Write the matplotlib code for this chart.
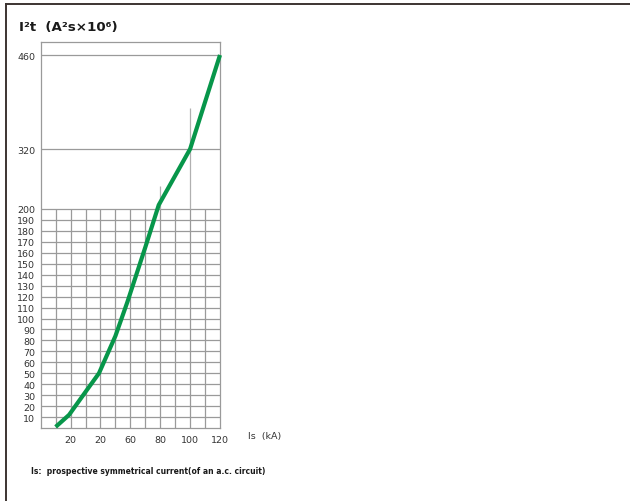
import numpy as np
import matplotlib.pyplot as plt
from matplotlib.lines import Line2D

plt.switch_backend('Agg')

# ==========================================
# data
# ==========================================
curve_is = [10, 19, 30, 39, 50, 58, 70, 79, 100, 120]        # Is (kA)
curve_i2t = [1, 12, 33, 50, 84, 115, 165, 208, 320, 460]     # I2t (A2s x 10^6)

x_ticks = [20, 40, 60, 80, 100, 120]
x_tick_labels = ["20", "20", "60", "80", "100", "120"]      # printed like this on the original
y_ticks = list(range(10, 210, 10)) + [320, 460]
y_tick_labels = [str(v) for v in y_ticks]

# short reference lines above the grid
mark_x = [80, 100]
mark_top = [246, 381]

# y axis is piecewise: fine grid up to 200, squeezed above
y_break_vals = [0, 200, 320, 460, 480]
y_break_pos = [0, 219, 279, 373, 386]


def y_fwd(v):
    return np.interp(v, y_break_vals, y_break_pos)


def y_inv(p):
    return np.interp(p, y_break_pos, y_break_vals)


GRID = '#9a9a9a'
GREEN = '#07964a'

fig = plt.figure(figsize=(6.3, 5.02), dpi=100)
ax = fig.add_axes([40.7 / 630, 73 / 502, 179.3 / 630, 386 / 502])
ax.set_yscale('function', functions=(y_fwd, y_inv))
ax.set_xlim(0, 120)
ax.set_ylim(0, 480)
ax.minorticks_off()

for s in ax.spines.values():
    s.set_color(GRID)
    s.set_linewidth(0.9)

# grid only in the lower part
ax.vlines(range(10, 120, 10), 0, 200, color=GRID, lw=0.9)
ax.hlines(range(10, 210, 10), 0, 120, color=GRID, lw=0.9)
ax.hlines([320, 460], 0, 120, color=GRID, lw=0.9)
ax.vlines(mark_x, 200, mark_top, color='#b0b0b0', lw=0.9)

ax.plot(curve_is, curve_i2t, color=GREEN, lw=3.0, solid_joinstyle='miter',
        solid_capstyle='butt', clip_on=False, zorder=5)

ax.set_xticks(x_ticks)
ax.set_xticklabels(x_tick_labels)
ax.set_yticks(y_ticks)
ax.set_yticklabels(y_tick_labels)
ax.tick_params(length=0, labelsize=6.8, colors='#333333')
ax.tick_params(axis='y', pad=4)
ax.tick_params(axis='x', pad=5)

# texts
fig.text(19 / 630, 1 - 27 / 502, "I\u00b2t  (A\u00b2s\u00d710\u2076)", fontsize=9.6,
         fontweight='bold', va='center', ha='left', color='#1a1a1a')
fig.text(248 / 630, 1 - 437 / 502, "Is  (kA)", fontsize=6.8, va='center',
         ha='left', color='#333333')
fig.text(31 / 630, 1 - 471 / 502, "Is:  prospective symmetrical current(of an a.c. circuit)",
         fontsize=5.5, fontweight='bold', va='center', ha='left', color='#1a1a1a')

# frame lines at top and left of the picture
fig.add_artist(Line2D([6 / 630, 1], [1 - 5 / 502] * 2, transform=fig.transFigure,
                      color='#3c3431', lw=1.4))
fig.add_artist(Line2D([6 / 630] * 2, [0, 1 - 5 / 502], transform=fig.transFigure,
                      color='#3c3431', lw=1.4))

fig.savefig('out.png', dpi=100)
